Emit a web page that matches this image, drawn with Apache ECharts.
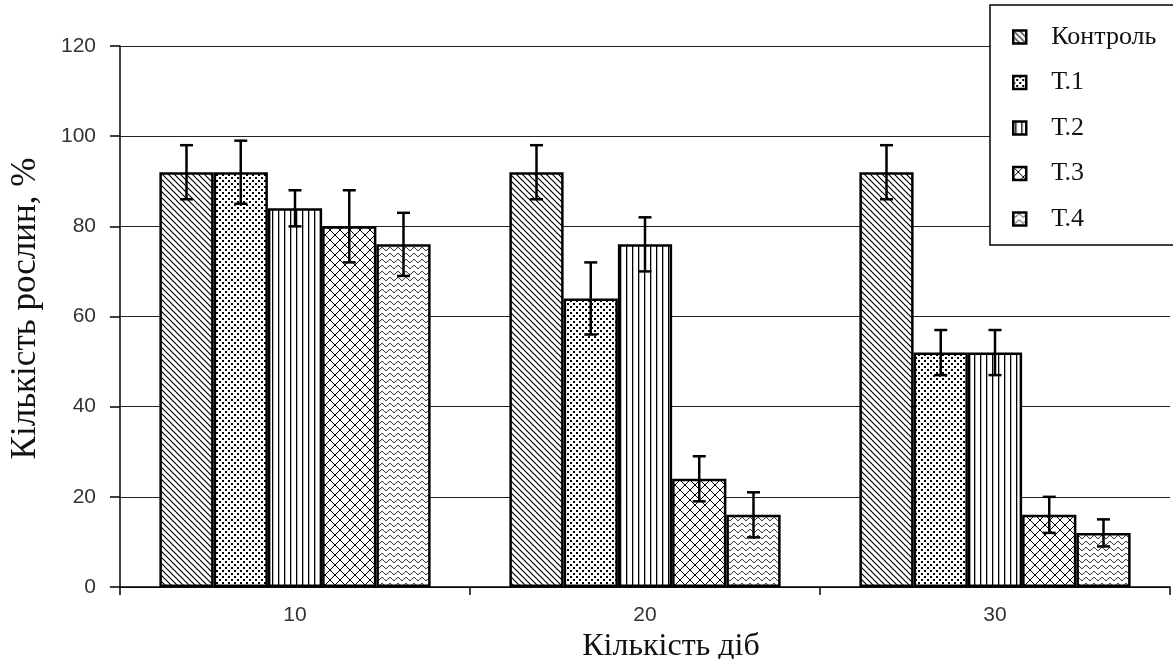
<!DOCTYPE html>
<html><head><meta charset="utf-8">
<script src="https://cdn.jsdelivr.net/npm/echarts@6/dist/echarts.min.js"></script>
<style>html,body{margin:0;padding:0;background:#fff}#c{width:1173px;height:659px}</style>
</head><body><div id="c"></div>
<script>
const categories = ['10', '20', '30'];
const seriesNames = ['Контроль', 'Т.1', 'Т.2', 'Т.3', 'Т.4'];
const control = [92, 92, 92];
const t1 = [92, 64, 52];
const t2 = [84, 76, 52];
const t3 = [80, 24, 16];
const t4 = [76, 16, 12];
const controlErrLow = [86, 86, 86];
const controlErrHigh = [98, 98, 98];
const t1ErrLow = [85, 56, 47];
const t1ErrHigh = [99, 72, 57];
const t2ErrLow = [80, 70, 47];
const t2ErrHigh = [88, 82, 57];
const t3ErrLow = [72, 19, 12];
const t3ErrHigh = [88, 29, 20];
const t4ErrLow = [69, 11, 9];
const t4ErrHigh = [83, 21, 15];
const yTicks = [0, 20, 40, 60, 80, 100, 120];

const values = [control, t1, t2, t3, t4];
const lows = [controlErrLow, t1ErrLow, t2ErrLow, t3ErrLow, t4ErrLow];
const highs = [controlErrHigh, t1ErrHigh, t2ErrHigh, t3ErrHigh, t4ErrHigh];

function mk(w, h, draw) {
  const c = document.createElement('canvas');
  c.width = w; c.height = h;
  const g = c.getContext('2d');
  g.fillStyle = '#fff'; g.fillRect(0, 0, w, h);
  g.strokeStyle = '#000'; g.fillStyle = '#000';
  draw(g, w, h);
  return c;
}
const patDiag = mk(6, 6, (g) => {
  g.lineWidth = 1.2; g.beginPath();
  g.moveTo(-1, -1); g.lineTo(7, 7);
  g.moveTo(-1, 5); g.lineTo(1, 7);
  g.moveTo(5, -1); g.lineTo(7, 1);
  g.stroke();
});
const patDots = mk(6, 6, (g) => {
  g.fillRect(0, 0, 2, 2); g.fillRect(3, 3, 2, 2);
});
const patVert = mk(6, 2, (g) => { g.fillRect(2, 0, 1.3, 2); });
const patCross = mk(10, 10, (g) => {
  g.lineWidth = 1; g.beginPath();
  g.moveTo(0, 0); g.lineTo(10, 10);
  g.moveTo(10, 0); g.lineTo(0, 10);
  g.stroke();
});
const patWave = mk(8, 6, (g) => {
  g.lineWidth = 1; g.beginPath();
  for (let x = 0; x <= 8; x += 0.5) {
    const y = 3 + 1.5 * Math.sin(2 * Math.PI * x / 8);
    if (x === 0) g.moveTo(x, y); else g.lineTo(x, y);
  }
  g.stroke();
});
const patterns = [patDiag, patDots, patVert, patCross, patWave];

const GAP = 0.225;
const N = seriesNames.length;

const series = seriesNames.map((name, i) => ({
  name: name,
  type: 'bar',
  barGap: '0%',
  barCategoryGap: (GAP * 100) + '%',
  data: values[i],
  itemStyle: { color: { image: patterns[i], repeat: 'repeat' }, borderColor: '#000', borderWidth: 2.5 },
  emphasis: { disabled: true },
  z: 2
}));

const errData = [];
for (let i = 0; i < N; i++) {
  for (let j = 0; j < categories.length; j++) {
    errData.push([j, lows[i][j], highs[i][j], i]);
  }
}
series.push({
  type: 'custom',
  name: 'err',
  data: errData,
  z: 10,
  encode: { x: 0, y: [1, 2] },
  renderItem: function (params, api) {
    const cat = api.value(0), lo = api.value(1), hi = api.value(2), si = api.value(3);
    const band = api.size([1, 0])[0];
    const bw = band * (1 - GAP) / N;
    const c0 = api.coord([cat, lo]);
    const c1 = api.coord([cat, hi]);
    const x = c0[0] - band * (1 - GAP) / 2 + bw * (si + 0.5);
    const cap = 6.5;
    const st = { stroke: '#000', lineWidth: 2.5 };
    return {
      type: 'group',
      children: [
        { type: 'line', shape: { x1: x, y1: c0[1], x2: x, y2: c1[1] }, style: st },
        { type: 'line', shape: { x1: x - cap, y1: c0[1], x2: x + cap, y2: c0[1] }, style: st },
        { type: 'line', shape: { x1: x - cap, y1: c1[1], x2: x + cap, y2: c1[1] }, style: st }
      ]
    };
  }
});

const chart = echarts.init(document.getElementById('c'), null, { renderer: 'canvas' });
chart.setOption({
  backgroundColor: '#fff',
  animation: false,
  grid: { left: 120, right: 3, top: 46, bottom: 72, containLabel: false, outerBoundsMode: 'none' },
  legend: {
    data: seriesNames,
    orient: 'vertical',
    left: 990, top: 5,
    padding: [19, 200, 13, 22],
    itemGap: 19.5,
    itemWidth: 13, itemHeight: 13,
    icon: 'rect',
    backgroundColor: '#fff',
    borderColor: '#000', borderWidth: 1.5,
    textStyle: { fontFamily: 'Liberation Serif', fontSize: 26, color: '#111', padding: [0, 0, 0, 20], lineHeight: 26 },
    itemStyle: { borderColor: '#000', borderWidth: 2.5 }
  },
  xAxis: {
    type: 'category',
    data: categories,
    name: 'Кількість діб',
    nameLocation: 'middle',
    nameGap: 40,
    nameTextStyle: { fontFamily: 'Liberation Serif', fontSize: 32, color: '#111', padding: [0, 0, 0, 52], lineHeight: 32 },
    axisLine: { lineStyle: { color: '#000', width: 1.5 } },
    axisTick: { show: true, length: 8, lineStyle: { color: '#000', width: 1.5 } },
    axisLabel: { fontFamily: 'Liberation Sans', fontSize: 21, color: '#333', margin: 18 }
  },
  yAxis: {
    type: 'value',
    min: yTicks[0], max: yTicks[yTicks.length - 1], interval: 20,
    name: 'Кількість рослин, %',
    nameLocation: 'middle',
    nameGap: 77,
    nameTextStyle: { fontFamily: 'Liberation Serif', fontSize: 35, color: '#111', padding: [0, 0, 0, 16], lineHeight: 35 },
    axisLine: { show: true, lineStyle: { color: '#000', width: 1.5 } },
    axisTick: { show: true, length: 10, lineStyle: { color: '#000', width: 1.5 } },
    axisLabel: { fontFamily: 'Liberation Sans', fontSize: 21, color: '#333', margin: 24 },
    splitLine: { show: true, lineStyle: { color: '#222', width: 1.2 } }
  },
  series: series
});
</script>
</body></html>
